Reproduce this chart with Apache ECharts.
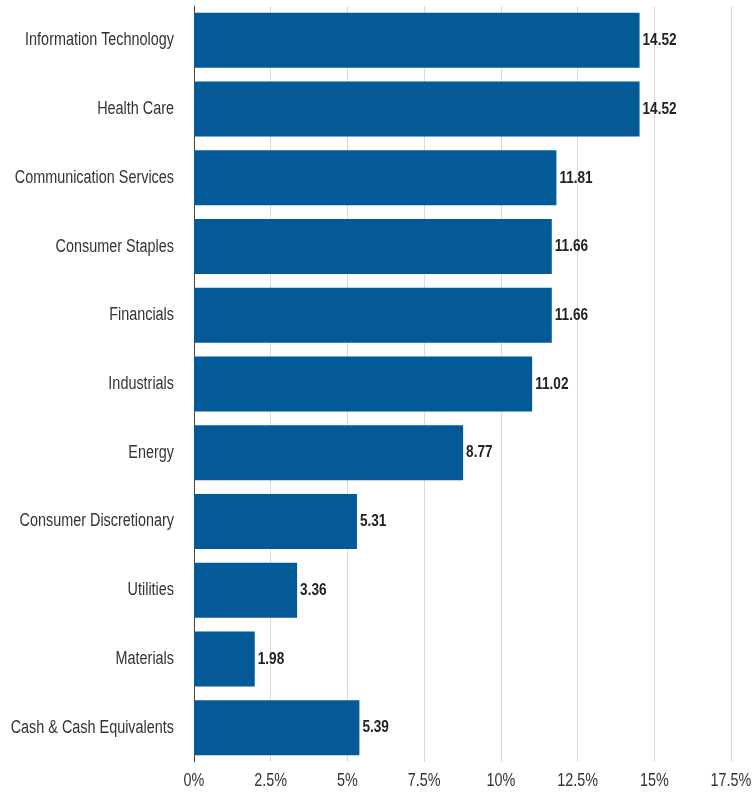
<!DOCTYPE html>
<html>
<head>
<meta charset="utf-8">
<script src="https://cdn.jsdelivr.net/npm/echarts@6/dist/echarts.min.js"></script>
<style>
html,body{margin:0;padding:0;background:#fff;}
#chart{width:752px;height:792px;}
</style>
</head>
<body>
<div id="chart"></div>
<script>
var categories = ["Information Technology","Health Care","Communication Services","Consumer Staples","Financials","Industrials","Energy","Consumer Discretionary","Utilities","Materials","Cash & Cash Equivalents"];
var values = [14.52,14.52,11.81,11.66,11.66,11.02,8.77,5.31,3.36,1.98,5.39];
var tickLabels = ["0%","2.5%","5%","7.5%","10%","12.5%","15%","17.5%"];

// Narrow (condensed) rendering of the Arial-metric font, like Arial Narrow
var NARROW = 0.8;
(function(){
  var proto = CanvasRenderingContext2D.prototype;
  var origFill = proto.fillText, origMeasure = proto.measureText;
  proto.fillText = function(t, x, y, m){
    this.save(); this.translate(x, y); this.scale(NARROW, 1);
    origFill.call(this, t, 0, 0);
    this.restore();
  };
  proto.measureText = function(t){
    var r = origMeasure.call(this, t);
    return {
      width: r.width * NARROW,
      actualBoundingBoxLeft: r.actualBoundingBoxLeft * NARROW,
      actualBoundingBoxRight: r.actualBoundingBoxRight * NARROW,
      actualBoundingBoxAscent: r.actualBoundingBoxAscent,
      actualBoundingBoxDescent: r.actualBoundingBoxDescent,
      fontBoundingBoxAscent: r.fontBoundingBoxAscent,
      fontBoundingBoxDescent: r.fontBoundingBoxDescent
    };
  };
})();

var FONT = '"Liberation Sans",Arial,sans-serif';
var chart = echarts.init(document.getElementById('chart'));
chart.setOption({
  animation:false,
  grid:{left:194,right:21,top:6,bottom:30,containLabel:false,outerBoundsMode:'none'},
  xAxis:{
    type:'value',min:0,max:17.5,interval:2.5,
    axisLine:{show:false},axisTick:{show:false},
    splitLine:{show:true,lineStyle:{color:'#d9d9d9',width:1}},
    axisLabel:{
      margin:12,color:'#333',fontFamily:FONT,fontSize:18,
      formatter:function(v){var i=Math.round(v/2.5);return tickLabels[i];}
    }
  },
  yAxis:{
    type:'category',data:categories,inverse:true,
    axisLine:{show:true,lineStyle:{color:'#444',width:1}},
    axisTick:{show:false},
    axisLabel:{margin:20,color:'#333',fontFamily:FONT,fontSize:18}
  },
  series:[{
    type:'bar',data:values,barCategoryGap:'20%',
    itemStyle:{color:'#035a97'},
    label:{show:true,position:'right',distance:3,color:'#222',fontWeight:'bold',fontFamily:FONT,fontSize:17,
      formatter:function(p){return p.value.toFixed(2);}}
  }]
});
</script>
</body>
</html>
